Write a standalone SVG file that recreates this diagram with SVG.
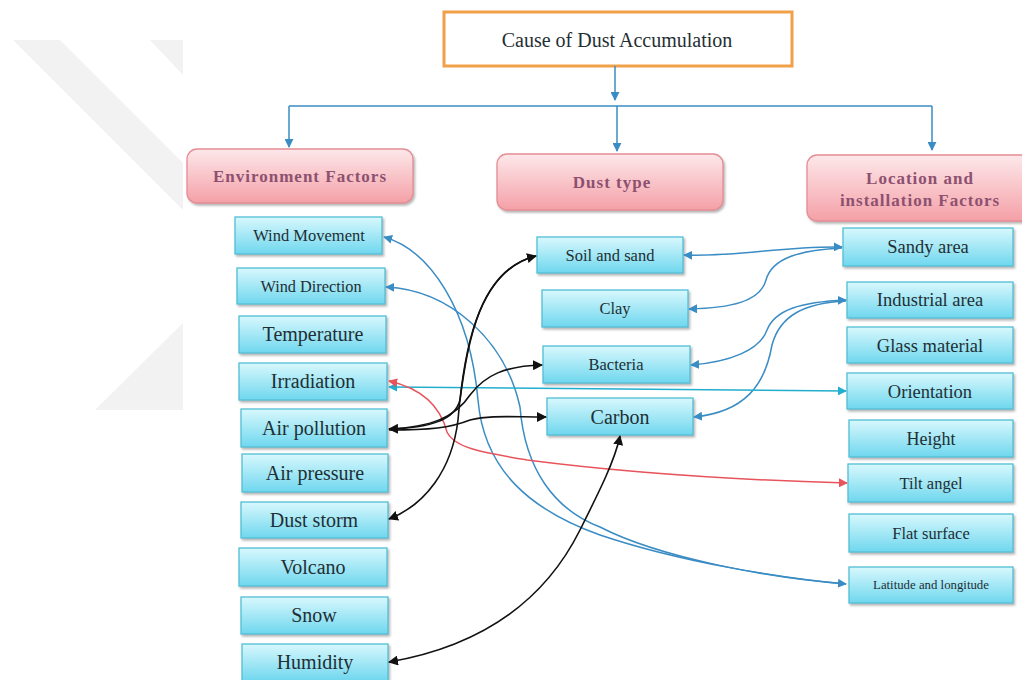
<svg xmlns="http://www.w3.org/2000/svg" width="1022" height="680" viewBox="0 0 1022 680">
<defs>
<linearGradient id="gCyan" x1="0" y1="0" x2="0" y2="1">
<stop offset="0" stop-color="#d8f8fd"/>
<stop offset="1" stop-color="#6fd7ee"/>
</linearGradient>
<linearGradient id="gPink" x1="0" y1="0" x2="0" y2="1">
<stop offset="0" stop-color="#fde8ea"/>
<stop offset="1" stop-color="#f4a0a7"/>
</linearGradient>
<filter id="sh" x="-10%" y="-20%" width="125%" height="150%">
<feDropShadow dx="1.5" dy="2" stdDeviation="1.2" flood-color="#7a7a7a" flood-opacity="0.55"/>
</filter>
<marker id="aBlue" viewBox="0 0 10 10" refX="9" refY="5" markerWidth="9" markerHeight="9" markerUnits="userSpaceOnUse" orient="auto-start-reverse">
<path d="M0,0 L10,5 L0,10 z" fill="#3a8cc4"/>
</marker>
<marker id="aCyan" viewBox="0 0 10 10" refX="9" refY="5" markerWidth="9" markerHeight="9" markerUnits="userSpaceOnUse" orient="auto-start-reverse">
<path d="M0,0 L10,5 L0,10 z" fill="#22aecd"/>
</marker>
<marker id="aRed" viewBox="0 0 10 10" refX="9" refY="5" markerWidth="9" markerHeight="9" markerUnits="userSpaceOnUse" orient="auto-start-reverse">
<path d="M0,0 L10,5 L0,10 z" fill="#e8535c"/>
</marker>
<marker id="aBlack" viewBox="0 0 10 10" refX="9" refY="5" markerWidth="10" markerHeight="10" markerUnits="userSpaceOnUse" orient="auto-start-reverse">
<path d="M0,0 L10,5 L0,10 z" fill="#111"/>
</marker>
</defs>
<style>
.box{fill:url(#gCyan);stroke:#52bfd5;stroke-width:1.3;filter:url(#sh)}
.hdr{fill:url(#gPink);stroke:#e58d95;stroke-width:1.3;filter:url(#sh)}
.t{font-family:"Liberation Serif","Times New Roman",serif;fill:#1f2f34;text-anchor:middle}
.h{font-family:"Liberation Serif","Times New Roman",serif;font-weight:bold;fill:#8d5070;text-anchor:middle;letter-spacing:1px;font-size:17px}
.cb{fill:none;stroke:#3a8cc4;stroke-width:1.5}
.cc{fill:none;stroke:#22aecd;stroke-width:1.5}
.cr{fill:none;stroke:#e8535c;stroke-width:1.5}
.ck{fill:none;stroke:#111;stroke-width:1.6}
.wm{fill:#f2f2f2}
</style>

<g id="watermark">
<polygon class="wm" points="13,40 60,40 183,163 183,210"/>
<polygon class="wm" points="150,40 183,40 183,75"/>
<polygon class="wm" points="183,323 183,410 95,410"/>
</g>

<g id="title">
<rect x="444" y="12" width="348" height="54" fill="#fff" stroke="#f0a048" stroke-width="3"/>
<text class="t" x="617" y="47" font-size="20">Cause of Dust Accumulation</text>
</g>

<g id="hdr-env">
<rect class="hdr" x="187" y="149" width="226" height="54" rx="10"/>
<text class="h" x="300" y="182">Environment Factors</text>
</g>
<g id="hdr-dust">
<rect class="hdr" x="497" y="154" width="226" height="56" rx="10"/>
<text class="h" x="612" y="188">Dust type</text>
</g>
<g id="hdr-loc">
<rect class="hdr" x="807" y="155" width="225" height="66" rx="10"/>
<text class="h" x="920" y="184">Location and</text>
<text class="h" x="920" y="206">installation Factors</text>
</g>

<g id="n-wind-movement"><rect class="box" x="235" y="217" width="147" height="37"/><text class="t" x="309" y="241" font-size="16.5">Wind Movement</text></g>
<g id="n-wind-direction"><rect class="box" x="237" y="268" width="148" height="36"/><text class="t" x="311" y="292" font-size="16.3">Wind Direction</text></g>
<g id="n-temperature"><rect class="box" x="239" y="316" width="147" height="37"/><text class="t" x="313" y="341" font-size="20">Temperature</text></g>
<g id="n-irradiation"><rect class="box" x="239" y="363" width="148" height="37"/><text class="t" x="313" y="388" font-size="20">Irradiation</text></g>
<g id="n-air-pollution"><rect class="box" x="241" y="409" width="146" height="38"/><text class="t" x="314" y="435" font-size="20">Air pollution</text></g>
<g id="n-air-pressure"><rect class="box" x="242" y="454" width="146" height="38"/><text class="t" x="315" y="480" font-size="20">Air pressure</text></g>
<g id="n-dust-storm"><rect class="box" x="241" y="502" width="147" height="36"/><text class="t" x="314" y="527" font-size="20">Dust storm</text></g>
<g id="n-volcano"><rect class="box" x="239" y="548" width="148" height="38"/><text class="t" x="313" y="574" font-size="20">Volcano</text></g>
<g id="n-snow"><rect class="box" x="241" y="597" width="147" height="37"/><text class="t" x="314" y="622" font-size="20">Snow</text></g>
<g id="n-humidity"><rect class="box" x="242" y="644" width="146" height="37"/><text class="t" x="315" y="669" font-size="20">Humidity</text></g>

<g id="n-soil"><rect class="box" x="537" y="237" width="146" height="36"/><text class="t" x="610" y="261" font-size="16.5">Soil and sand</text></g>
<g id="n-clay"><rect class="box" x="542" y="290" width="146" height="37"/><text class="t" x="615" y="314" font-size="16.5">Clay</text></g>
<g id="n-bacteria"><rect class="box" x="543" y="346" width="147" height="37"/><text class="t" x="616" y="370" font-size="16.5">Bacteria</text></g>
<g id="n-carbon"><rect class="box" x="547" y="398" width="146" height="37"/><text class="t" x="620" y="424" font-size="20">Carbon</text></g>

<g id="n-sandy"><rect class="box" x="843" y="228" width="170" height="38"/><text class="t" x="928" y="253" font-size="18.5">Sandy area</text></g>
<g id="n-industrial"><rect class="box" x="847" y="282" width="166" height="36"/><text class="t" x="930" y="306" font-size="18.5">Industrial area</text></g>
<g id="n-glass"><rect class="box" x="847" y="327" width="166" height="36"/><text class="t" x="930" y="352" font-size="18.5">Glass material</text></g>
<g id="n-orientation"><rect class="box" x="847" y="373" width="166" height="36"/><text class="t" x="930" y="398" font-size="18.5">Orientation</text></g>
<g id="n-height"><rect class="box" x="849" y="420" width="164" height="37"/><text class="t" x="931" y="445" font-size="18">Height</text></g>
<g id="n-tilt"><rect class="box" x="848" y="464" width="165" height="38"/><text class="t" x="931" y="489" font-size="16.5">Tilt angel</text></g>
<g id="n-flat"><rect class="box" x="849" y="514" width="164" height="38"/><text class="t" x="931" y="539" font-size="16.5">Flat surface</text></g>
<g id="n-latlong"><rect class="box" x="849" y="567" width="164" height="36"/><text class="t" x="931" y="589" font-size="12.8">Latitude and longitude</text></g>

<g id="connectors">
<path class="cb" d="M615,66 V100" marker-end="url(#aBlue)"/>
<path class="cb" d="M289,106 H932"/>
<path class="cb" d="M289,106 V147" marker-end="url(#aBlue)"/>
<path class="cb" d="M617,106 V151" marker-end="url(#aBlue)"/>
<path class="cb" d="M932,106 V150" marker-end="url(#aBlue)"/>

<path class="cb" d="M384,237 C430,250 470,310 478,400 C484,470 530,510 600,535 C680,562 780,578 846,584" marker-start="url(#aBlue)" marker-end="url(#aBlue)"/>
<path class="cb" d="M386,287 C450,290 505,340 520,407 C525,470 555,510 600,527 C660,558 770,578 846,584" marker-start="url(#aBlue)"/>

<path class="cb" d="M684,255 C740,257 780,246 842,247" marker-start="url(#aBlue)" marker-end="url(#aBlue)"/>
<path class="cb" d="M842,248 C800,250 772,258 766,280 C760,302 730,308 689,309" marker-end="url(#aBlue)"/>
<path class="cb" d="M846,300 C800,302 775,310 767,330 C760,350 730,362 691,365" marker-start="url(#aBlue)" marker-end="url(#aBlue)"/>
<path class="cb" d="M846,301 C805,303 780,315 772,345 C765,385 745,412 694,417" marker-end="url(#aBlue)"/>

<path class="cc" d="M389,387 L846,391" marker-start="url(#aCyan)" marker-end="url(#aCyan)"/>
<path class="cr" d="M389,381 C420,388 440,405 447,432 C455,448 480,452 527,460 C620,472 740,480 847,483" marker-start="url(#aRed)" marker-end="url(#aRed)"/>

<path class="ck" d="M389,429 C430,428 455,420 460,400 C468,340 480,270 536,256" marker-start="url(#aBlack)" marker-end="url(#aBlack)"/>
<path class="ck" d="M389,519 C425,505 452,470 458,420 C463,360 475,270 536,256" marker-start="url(#aBlack)"/>
<path class="ck" d="M389,429 C430,427 455,418 470,395 C485,375 505,366 542,365" marker-end="url(#aBlack)"/>
<path class="ck" d="M389,430 C430,430 450,428 470,420 C490,415 510,417 546,417" marker-end="url(#aBlack)"/>
<path class="ck" d="M389,662 C470,648 540,610 580,530 C600,490 615,460 620,436" marker-start="url(#aBlack)" marker-end="url(#aBlack)"/>
</g>
</svg>
